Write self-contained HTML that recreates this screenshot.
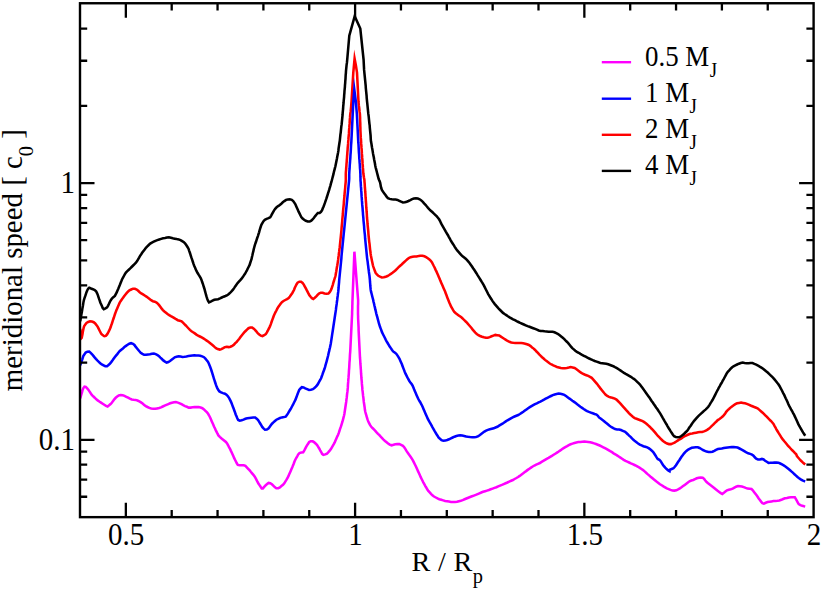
<!DOCTYPE html>
<html><head><meta charset="utf-8"><title>meridional speed</title>
<style>
html,body{margin:0;padding:0;background:#fff;}
body{width:822px;height:589px;overflow:hidden;}
svg{display:block;font-family:"Liberation Serif",serif;fill:#000;}
</style></head><body>
<svg width="822" height="589" viewBox="0 0 822 589">
<rect width="822" height="589" fill="#fff"/>
<path d="M80.2 398.4 L81.5 393.8 L82.1 391.8 L82.6 389.9 L83.4 388.1 L84.5 386.6 L85.8 386.9 L87.2 388.4 L88.5 389.9 L89.6 391.6 L90.7 393.3 L91.8 394.9 L93.2 396.3 L94.7 397.7 L96.1 399.1 L97.7 400.4 L99.3 401.5 L101.0 402.6 L102.7 403.7 L104.3 404.8 L106.0 405.9 L107.6 406.5 L109.1 405.3 L110.6 404.0 L112.0 402.5 L113.1 400.9 L114.3 399.3 L115.7 397.8 L117.2 396.6 L118.8 395.4 L120.7 395.1 L122.7 395.2 L124.5 395.9 L126.3 396.8 L128.1 397.7 L129.9 398.7 L131.7 399.5 L133.6 399.8 L135.6 399.9 L137.5 400.5 L139.3 401.4 L141.0 402.4 L142.6 403.6 L144.2 404.9 L145.8 406.1 L147.5 407.0 L149.3 407.9 L151.2 408.5 L153.2 408.7 L155.2 408.8 L157.1 408.4 L159.1 408.0 L161.0 407.4 L162.8 406.5 L164.6 405.7 L166.4 404.9 L168.3 404.1 L170.1 403.3 L172.0 402.7 L174.0 402.3 L175.9 402.1 L177.9 402.6 L179.7 403.3 L181.5 404.2 L183.2 405.2 L185.0 406.1 L186.9 406.8 L188.7 407.6 L190.7 407.6 L192.7 407.3 L194.6 407.1 L196.6 407.1 L198.6 407.1 L200.6 407.6 L202.4 408.2 L204.0 409.4 L205.4 410.8 L206.8 412.2 L208.1 413.8 L209.1 415.5 L210.0 417.3 L210.8 419.1 L211.6 421.0 L212.4 422.8 L213.2 424.6 L214.0 426.5 L214.9 428.3 L215.7 430.1 L216.6 431.9 L217.5 433.7 L218.4 435.4 L219.8 436.9 L221.3 438.2 L222.8 439.4 L224.4 440.7 L225.9 442.0 L227.1 443.5 L228.1 445.3 L229.0 447.1 L230.0 448.8 L230.8 450.6 L231.7 452.5 L232.5 454.3 L233.3 456.1 L234.1 457.9 L235.0 459.7 L235.9 461.5 L236.8 463.3 L237.8 464.9 L239.7 465.2 L241.7 465.2 L243.7 465.2 L245.4 465.9 L246.8 467.3 L248.2 468.8 L249.5 470.2 L250.8 471.8 L252.1 473.3 L253.4 474.8 L254.6 476.4 L255.6 478.2 L256.5 479.9 L257.4 481.7 L258.4 483.5 L259.5 485.1 L260.6 486.8 L261.7 488.4 L262.9 488.4 L264.2 486.9 L265.5 485.4 L267.1 484.1 L268.6 482.9 L270.2 483.2 L271.9 484.3 L273.3 485.7 L274.7 487.1 L276.3 488.2 L278.2 488.2 L279.9 487.4 L281.4 486.1 L283.0 484.8 L284.3 483.3 L285.3 481.6 L286.4 479.9 L287.4 478.2 L288.3 476.4 L289.1 474.6 L289.9 472.7 L290.7 470.9 L291.5 469.1 L292.3 467.2 L293.0 465.4 L293.8 463.5 L294.5 461.6 L295.3 459.8 L296.2 458.0 L297.2 456.3 L298.2 454.5 L299.5 453.1 L301.3 452.5 L303.2 452.3 L304.2 450.7 L305.1 448.9 L306.0 447.1 L307.0 445.4 L308.1 443.7 L309.2 442.0 L310.7 441.2 L312.7 441.3 L314.3 442.3 L315.8 443.7 L317.1 445.1 L318.2 446.8 L319.2 448.5 L320.2 450.3 L321.2 452.0 L322.1 453.8 L323.4 454.8 L325.3 454.4 L327.0 453.6 L328.4 452.2 L329.7 450.7 L330.9 449.1 L331.9 447.3 L332.9 445.6 L333.9 443.9 L334.8 442.1 L335.6 440.3 L336.4 438.4 L337.2 436.6 L338.1 434.8 L338.8 432.9 L339.4 431.0 L340.0 429.1 L340.7 427.2 L341.3 425.3 L341.9 423.4 L342.5 421.5 L343.0 419.6 L343.5 417.6 L344.0 415.7 L344.4 413.7 L344.7 411.7 L345.0 409.8 L345.3 407.8 L345.6 405.8 L345.9 403.8 L346.2 401.9 L346.4 399.9 L346.7 397.9 L346.9 395.9 L347.1 393.9 L347.4 391.9 L347.6 389.9 L347.8 387.9 L347.9 385.9 L348.0 383.9 L348.2 381.9 L348.3 379.9 L348.5 377.9 L348.6 376.0 L348.8 374.0 L348.9 372.0 L349.0 370.0 L349.2 368.0 L349.3 366.0 L349.4 364.0 L349.5 362.0 L349.7 360.0 L349.8 358.0 L349.9 356.0 L350.0 354.0 L350.2 352.0 L350.3 350.0 L350.4 348.0 L350.5 346.0 L350.6 344.0 L350.7 342.0 L350.8 340.0 L350.9 338.0 L351.0 336.0 L351.1 334.0 L351.2 332.0 L351.3 330.0 L351.4 328.0 L351.5 326.0 L351.6 324.0 L351.7 322.0 L351.8 320.0 L351.9 318.0 L352.0 316.0 L352.1 314.0 L352.1 312.0 L352.2 310.0 L352.3 308.0 L352.3 306.0 L352.4 304.0 L352.4 302.0 L352.5 300.0 L354.4 251.7 L358.1 300.0 L358.1 302.0 L358.1 304.0 L358.0 306.0 L358.0 308.0 L358.0 310.0 L358.0 312.0 L358.0 314.0 L358.1 316.0 L358.1 318.0 L358.2 320.0 L358.3 322.0 L358.4 324.0 L358.5 326.0 L358.6 328.0 L358.6 330.0 L358.7 332.0 L358.8 334.0 L358.9 336.0 L359.0 338.0 L359.1 340.0 L359.2 342.0 L359.3 344.0 L359.4 346.0 L359.5 348.0 L359.6 350.0 L359.7 352.0 L359.8 354.0 L359.9 356.0 L360.0 358.0 L360.2 360.0 L360.3 362.0 L360.4 364.0 L360.6 366.0 L360.7 368.0 L360.9 370.0 L361.0 372.0 L361.1 374.0 L361.3 376.0 L361.4 378.0 L361.6 380.0 L361.8 381.9 L361.9 383.9 L362.1 385.9 L362.3 387.9 L362.4 389.9 L362.7 391.9 L362.9 393.9 L363.1 395.9 L363.4 397.9 L363.6 399.9 L363.8 401.9 L364.1 403.8 L364.4 405.8 L364.7 407.8 L364.9 409.8 L365.3 411.8 L365.8 413.7 L366.4 415.6 L366.9 417.5 L367.5 419.4 L368.2 421.3 L369.1 423.1 L370.0 424.9 L371.1 426.5 L372.5 428.0 L373.9 429.4 L375.3 430.8 L376.6 432.3 L378.0 433.8 L379.4 435.2 L380.7 436.7 L382.1 438.1 L383.5 439.6 L385.0 440.9 L386.6 442.2 L388.1 443.4 L389.7 444.6 L391.6 445.3 L393.5 444.8 L395.3 444.2 L397.3 444.1 L399.3 444.1 L401.1 444.9 L402.9 445.8 L404.2 447.2 L405.3 448.9 L406.3 450.6 L407.4 452.3 L408.6 454.0 L409.7 455.6 L410.9 457.2 L412.0 458.9 L413.0 460.6 L413.9 462.4 L414.8 464.2 L415.7 466.0 L416.5 467.8 L417.3 469.6 L418.1 471.4 L419.0 473.3 L419.8 475.1 L420.6 476.9 L421.5 478.7 L422.4 480.5 L423.3 482.3 L424.3 484.1 L425.2 485.8 L426.2 487.5 L427.2 489.3 L428.3 490.9 L429.7 492.4 L431.0 493.9 L432.4 495.3 L434.0 496.5 L435.8 497.5 L437.5 498.4 L439.3 499.2 L441.3 499.8 L443.2 500.4 L445.1 501.0 L447.1 501.3 L449.0 501.6 L451.0 501.9 L453.0 501.9 L455.0 501.9 L457.0 501.8 L458.9 501.2 L460.8 500.7 L462.7 500.1 L464.6 499.3 L466.4 498.5 L468.3 497.7 L470.1 497.0 L472.0 496.3 L473.9 495.6 L475.7 494.9 L477.6 494.1 L479.4 493.3 L481.3 492.5 L483.1 491.8 L485.1 491.2 L487.0 490.6 L488.9 490.0 L490.7 489.3 L492.6 488.6 L494.5 487.9 L496.4 487.2 L498.2 486.4 L500.1 485.6 L501.9 484.9 L503.7 484.1 L505.6 483.3 L507.4 482.5 L509.2 481.6 L511.1 480.8 L512.9 480.0 L514.6 479.0 L516.4 478.0 L518.1 477.0 L519.7 475.9 L521.3 474.7 L522.9 473.5 L524.5 472.2 L526.1 471.1 L527.7 469.9 L529.4 468.7 L531.0 467.6 L532.7 466.5 L534.4 465.5 L536.2 464.6 L538.0 463.8 L539.9 463.0 L541.6 461.9 L543.3 460.9 L545.0 459.9 L546.7 458.9 L548.5 457.9 L550.2 456.9 L551.9 455.9 L553.6 454.8 L555.3 453.7 L557.0 452.6 L558.7 451.5 L560.3 450.4 L561.9 449.2 L563.6 448.1 L565.3 447.1 L567.1 446.1 L568.8 445.1 L570.6 444.3 L572.5 443.6 L574.4 443.0 L576.3 442.5 L578.3 442.1 L580.3 441.9 L582.3 441.7 L584.3 441.6 L586.3 441.8 L588.2 442.0 L590.2 442.3 L592.2 442.8 L594.1 443.4 L596.0 444.0 L597.8 444.7 L599.7 445.5 L601.5 446.4 L603.3 447.3 L605.0 448.2 L606.8 449.2 L608.5 450.2 L610.2 451.2 L612.0 452.2 L613.6 453.3 L615.3 454.3 L617.0 455.4 L618.7 456.5 L620.4 457.6 L622.1 458.7 L623.7 459.8 L625.5 460.8 L627.3 461.7 L629.1 462.5 L630.9 463.4 L632.7 464.2 L634.5 465.0 L636.4 465.8 L638.1 466.8 L639.8 467.9 L641.5 469.0 L643.1 470.1 L644.6 471.4 L646.1 472.7 L647.6 474.1 L649.1 475.4 L650.6 476.7 L652.2 478.0 L653.7 479.3 L655.2 480.5 L656.8 481.8 L658.4 483.0 L660.0 484.2 L661.7 485.3 L663.4 486.4 L665.1 487.4 L666.8 488.4 L668.7 489.1 L670.5 489.9 L672.4 490.4 L674.4 490.6 L676.3 490.3 L678.1 489.4 L679.9 488.4 L681.5 487.3 L683.1 486.1 L684.7 484.9 L686.3 483.7 L687.9 482.5 L689.5 481.3 L691.3 480.5 L693.2 480.0 L695.0 479.1 L696.8 478.3 L698.7 477.7 L700.7 477.6 L702.7 477.7 L704.1 478.9 L705.3 480.5 L706.6 482.1 L708.1 483.3 L709.7 484.5 L711.3 485.7 L712.9 486.9 L714.5 488.2 L716.0 489.4 L717.6 490.7 L719.2 491.9 L720.8 493.1 L722.3 493.9 L723.9 492.8 L725.4 491.6 L727.0 490.3 L728.8 489.7 L730.8 489.3 L732.7 488.7 L734.4 487.7 L736.1 486.7 L738.0 486.1 L740.0 486.2 L741.9 486.5 L743.8 487.1 L745.7 487.9 L747.5 488.6 L749.5 488.8 L751.5 489.0 L752.8 490.3 L754.0 491.9 L755.2 493.5 L756.4 495.1 L757.6 496.7 L758.7 498.4 L759.9 500.0 L761.1 501.6 L762.4 503.2 L763.9 503.6 L765.7 502.8 L767.6 502.1 L769.5 501.7 L771.5 501.4 L773.5 501.1 L775.5 500.9 L777.5 500.8 L779.4 500.5 L781.3 499.8 L783.1 499.0 L785.0 498.3 L786.9 497.9 L788.9 497.4 L790.9 497.2 L792.9 497.2 L794.8 497.3 L795.8 498.9 L796.8 500.7 L797.7 502.5 L798.7 504.1 L800.4 505.1 L802.3 505.8 L804.2 506.3 L805.2 506.5" stroke="#ff00ff" stroke-width="2.55" fill="none" stroke-linejoin="miter" stroke-miterlimit="14" stroke-linecap="butt"/>
<path d="M80.2 328.8 L80.9 334.3 L81.2 336.3 L81.4 338.2 L81.7 337.9 L82.1 335.9 L82.5 334.0 L82.8 332.0 L83.2 330.0 L83.6 328.1 L84.1 326.2 L85.3 324.6 L86.5 323.0 L88.2 322.0 L90.0 321.3 L91.9 321.5 L93.7 322.2 L95.2 323.4 L96.4 325.0 L97.6 326.6 L98.5 328.4 L99.4 330.2 L100.3 332.0 L101.2 333.8 L102.6 335.1 L104.3 336.2 L105.8 335.9 L107.1 334.4 L108.1 332.7 L109.0 330.9 L109.9 329.1 L110.6 327.3 L111.2 325.4 L111.9 323.5 L112.5 321.6 L113.1 319.7 L113.8 317.8 L114.4 315.9 L115.0 314.0 L115.7 312.1 L116.4 310.2 L117.2 308.4 L118.0 306.6 L118.8 304.7 L119.6 302.9 L120.6 301.2 L121.8 299.5 L122.9 297.9 L124.1 296.3 L125.3 294.7 L126.6 293.2 L127.9 291.7 L129.4 290.4 L131.2 289.5 L133.0 288.7 L134.9 288.8 L136.7 289.5 L138.2 290.8 L139.7 292.2 L141.3 293.4 L143.0 294.4 L144.7 295.5 L146.4 296.6 L148.0 297.8 L149.6 299.0 L151.1 300.2 L152.9 301.2 L154.8 301.7 L156.5 302.5 L158.0 303.9 L159.3 305.4 L160.5 307.0 L161.7 308.6 L162.9 310.1 L164.4 311.5 L166.0 312.8 L167.5 314.0 L169.2 315.1 L170.9 316.1 L172.7 317.1 L174.4 318.1 L176.1 319.2 L177.8 320.2 L179.7 320.7 L181.6 321.3 L183.0 322.7 L184.4 324.1 L185.8 325.5 L187.2 327.0 L188.6 328.5 L189.9 329.9 L191.5 331.2 L193.1 332.3 L194.8 333.4 L196.4 334.6 L198.1 335.6 L199.9 336.5 L201.7 337.4 L203.4 338.4 L205.1 339.5 L206.7 340.6 L208.4 341.8 L209.9 343.0 L211.5 344.3 L213.0 345.5 L214.5 346.9 L216.0 348.2 L217.7 349.1 L219.7 349.6 L221.4 349.1 L223.2 348.1 L224.9 347.1 L226.8 346.7 L228.7 347.1 L230.5 346.7 L232.3 345.8 L233.9 344.7 L235.3 343.2 L236.7 341.8 L238.0 340.3 L239.3 338.7 L240.5 337.1 L241.7 335.5 L242.9 334.0 L244.2 332.4 L245.6 331.0 L247.0 329.6 L248.5 328.2 L250.3 327.5 L252.1 327.6 L253.8 328.7 L255.2 330.1 L256.5 331.6 L257.7 333.2 L259.2 334.5 L260.8 335.6 L262.5 336.2 L264.2 335.2 L265.8 334.1 L266.9 332.4 L267.8 330.7 L268.7 328.9 L269.6 327.1 L270.4 325.2 L271.1 323.4 L271.7 321.5 L272.4 319.6 L273.1 317.7 L273.8 315.8 L274.6 314.0 L275.5 312.2 L276.4 310.5 L277.3 308.7 L278.3 306.9 L279.5 305.3 L280.6 303.7 L281.9 302.1 L283.5 301.0 L285.3 300.0 L287.0 299.1 L288.7 298.0 L289.9 296.5 L291.1 294.8 L292.2 293.2 L293.2 291.5 L294.1 289.7 L294.8 287.8 L295.7 286.0 L296.6 284.2 L297.6 282.6 L299.3 281.7 L301.0 281.8 L302.6 283.0 L303.8 284.6 L304.7 286.3 L305.7 288.1 L306.6 289.9 L307.5 291.6 L308.4 293.4 L309.4 295.2 L310.6 296.8 L311.9 298.2 L313.3 299.0 L314.8 297.8 L316.3 296.4 L317.6 294.9 L319.0 293.5 L320.8 292.7 L322.7 292.7 L324.5 293.4 L326.5 293.8 L328.4 293.5 L329.7 292.1 L330.8 290.4 L331.6 288.6 L332.2 286.7 L332.8 284.8 L333.3 282.9 L333.9 281.0 L334.5 279.0 L335.1 277.1 L335.6 275.2 L335.9 273.2 L336.3 271.3 L336.6 269.3 L336.9 267.3 L337.3 265.3 L337.6 263.4 L337.9 261.4 L338.2 259.4 L338.4 257.4 L338.7 255.4 L338.9 253.5 L339.2 251.5 L339.4 249.5 L339.7 247.5 L339.9 245.5 L340.1 243.5 L340.3 241.5 L340.5 239.5 L340.7 237.6 L340.9 235.6 L341.1 233.6 L341.3 231.6 L341.5 229.6 L341.6 227.6 L341.8 225.6 L342.0 223.6 L342.2 221.6 L342.3 219.6 L342.5 217.6 L342.7 215.6 L342.9 213.7 L343.0 211.7 L343.2 209.7 L343.4 207.7 L343.6 205.7 L343.8 203.7 L343.9 201.7 L344.1 199.7 L344.3 197.7 L344.5 195.7 L344.6 193.7 L344.8 191.7 L345.0 189.7 L345.2 187.8 L345.3 185.8 L345.5 183.8 L345.7 181.8 L345.8 179.8 L345.8 177.8 L345.8 175.8 L345.8 173.8 L345.9 171.8 L346.1 169.8 L346.2 167.8 L346.4 165.8 L346.5 163.8 L346.7 161.8 L346.8 159.8 L347.0 157.8 L347.1 155.8 L347.3 153.8 L347.4 151.8 L347.6 149.8 L347.7 147.8 L347.9 145.9 L348.1 143.9 L348.2 141.9 L348.4 139.9 L348.5 137.9 L348.7 135.9 L348.9 133.9 L349.0 131.9 L349.1 129.9 L349.3 127.9 L349.4 125.9 L349.6 123.9 L349.7 121.9 L349.8 119.9 L350.0 117.9 L350.1 115.9 L350.3 113.9 L350.6 112.0 L350.8 110.0 L351.0 108.0 L351.2 106.0 L351.3 104.0 L351.5 102.0 L353.3 72.6 L354.6 58.6 L355.9 65.4 L357.0 72.6 L358.5 102.0 L358.7 104.0 L358.9 106.0 L359.2 108.0 L359.4 110.0 L359.6 111.9 L359.9 113.9 L360.0 115.9 L360.1 117.9 L360.1 119.9 L360.2 121.9 L360.3 123.9 L360.3 125.9 L360.4 127.9 L360.4 129.9 L360.5 131.9 L360.6 133.9 L360.7 135.9 L360.8 137.9 L361.0 139.9 L361.1 141.9 L361.2 143.9 L361.4 145.9 L361.5 147.9 L361.7 149.9 L361.8 151.9 L361.9 153.9 L362.1 155.9 L362.2 157.9 L362.4 159.9 L362.5 161.9 L362.6 163.9 L362.8 165.9 L362.9 167.9 L363.1 169.9 L363.2 171.8 L363.4 173.8 L363.7 175.8 L364.0 177.8 L364.4 179.8 L364.5 181.8 L364.7 183.8 L364.8 185.7 L364.9 187.7 L365.1 189.7 L365.2 191.7 L365.4 193.7 L365.5 195.7 L365.6 197.7 L365.8 199.7 L365.9 201.7 L366.1 203.7 L366.2 205.7 L366.3 207.7 L366.5 209.7 L366.6 211.7 L366.8 213.7 L366.9 215.7 L367.0 217.7 L367.2 219.7 L367.4 221.7 L367.5 223.7 L367.7 225.7 L367.9 227.7 L368.1 229.6 L368.3 231.6 L368.4 233.6 L368.6 235.6 L368.8 237.6 L369.0 239.6 L369.2 241.6 L369.5 243.6 L369.7 245.6 L369.9 247.6 L370.1 249.6 L370.4 251.5 L370.6 253.5 L370.9 255.5 L371.3 257.5 L371.7 259.4 L372.1 261.4 L372.5 263.3 L372.9 265.3 L373.5 267.2 L374.2 269.1 L374.9 271.0 L375.6 272.8 L376.9 274.3 L378.3 275.8 L380.0 276.7 L381.8 277.4 L383.8 277.3 L385.7 276.8 L387.5 276.0 L389.2 275.0 L390.9 273.9 L392.5 272.8 L394.1 271.5 L395.6 270.2 L397.0 268.8 L398.4 267.4 L399.9 266.0 L401.4 264.7 L402.9 263.3 L404.3 262.0 L405.8 260.6 L407.3 259.3 L408.8 258.0 L410.6 257.2 L412.5 256.7 L414.5 256.5 L416.5 256.4 L418.5 256.1 L420.4 255.7 L422.4 255.8 L424.4 256.3 L426.1 257.1 L427.8 258.2 L429.4 259.4 L430.8 260.8 L432.0 262.4 L432.9 264.2 L433.8 266.0 L434.7 267.7 L435.5 269.6 L436.4 271.4 L437.2 273.2 L438.0 275.1 L438.8 276.9 L439.6 278.7 L440.3 280.6 L441.1 282.4 L441.9 284.3 L442.7 286.1 L443.5 287.9 L444.3 289.8 L445.1 291.6 L445.8 293.5 L446.5 295.3 L447.2 297.2 L447.9 299.1 L448.7 301.0 L449.4 302.8 L450.2 304.6 L451.0 306.5 L452.0 308.2 L453.0 309.9 L454.1 311.6 L455.5 313.0 L457.1 314.2 L458.7 315.4 L460.3 316.6 L461.9 317.8 L463.3 319.2 L464.8 320.6 L466.2 322.0 L467.5 323.4 L468.9 325.0 L470.2 326.5 L471.5 328.0 L472.7 329.6 L474.0 331.1 L475.3 332.6 L476.8 333.9 L478.4 335.2 L480.1 336.0 L482.0 336.8 L483.9 337.3 L485.9 337.7 L487.8 337.8 L489.7 337.1 L491.6 336.3 L493.4 335.6 L495.3 334.9 L497.2 335.2 L499.2 335.5 L500.9 336.6 L502.6 337.7 L504.2 338.8 L505.9 339.9 L507.6 341.0 L509.4 341.8 L511.3 342.4 L513.2 342.8 L515.2 342.9 L517.2 342.9 L519.2 342.9 L521.2 343.1 L523.2 343.3 L525.2 343.7 L527.0 344.3 L528.9 345.0 L530.6 346.1 L532.1 347.4 L533.7 348.6 L535.1 350.0 L536.5 351.5 L537.9 352.9 L539.2 354.4 L540.7 355.8 L542.1 357.2 L543.6 358.5 L545.0 359.9 L546.6 361.1 L548.2 362.3 L549.8 363.5 L551.5 364.5 L553.3 365.4 L555.1 366.2 L557.0 367.0 L558.9 367.5 L560.9 368.0 L562.8 368.3 L564.8 368.2 L566.8 368.0 L568.8 367.6 L570.7 367.1 L572.6 367.4 L574.6 367.9 L576.2 369.0 L577.8 370.2 L579.4 371.4 L581.0 372.6 L582.7 373.7 L584.5 374.5 L586.4 375.2 L588.2 375.9 L590.0 376.8 L591.7 377.8 L593.1 379.3 L594.4 380.8 L595.7 382.3 L597.0 383.8 L598.2 385.4 L599.4 387.0 L600.6 388.6 L601.9 390.2 L603.1 391.7 L604.4 393.3 L605.7 394.8 L607.3 396.0 L609.0 396.9 L611.0 397.4 L612.9 398.0 L614.8 398.6 L616.5 399.6 L617.9 401.0 L619.3 402.4 L620.7 403.9 L622.0 405.4 L623.3 406.8 L624.7 408.3 L626.0 409.8 L627.4 411.3 L628.7 412.8 L630.1 414.3 L631.5 415.6 L633.1 416.9 L634.7 418.1 L636.5 418.8 L638.4 419.5 L640.3 420.2 L642.1 420.9 L643.9 421.9 L645.5 423.1 L647.0 424.3 L648.5 425.6 L650.0 427.0 L651.4 428.5 L652.8 429.9 L654.1 431.4 L655.4 432.9 L656.7 434.5 L657.9 436.0 L659.4 437.4 L660.8 438.8 L662.2 440.2 L663.7 441.5 L665.4 442.6 L667.1 443.6 L669.0 444.1 L670.9 444.1 L672.8 443.4 L674.6 442.6 L676.3 441.5 L678.0 440.4 L679.7 439.3 L681.4 438.3 L683.0 437.2 L684.8 436.2 L686.6 435.3 L688.4 434.5 L690.3 433.8 L692.2 433.5 L694.2 433.1 L696.2 432.7 L698.1 432.3 L700.1 432.1 L702.1 431.9 L704.0 431.4 L705.8 430.6 L707.5 429.6 L709.1 428.4 L710.6 427.1 L712.1 425.7 L713.5 424.3 L714.9 422.9 L716.4 421.5 L717.8 420.1 L719.5 419.0 L721.1 417.8 L722.6 416.6 L723.9 415.1 L725.2 413.5 L726.2 411.8 L727.5 410.3 L729.0 409.0 L730.5 407.6 L732.0 406.4 L733.7 405.2 L735.3 404.1 L737.1 403.3 L739.1 402.9 L741.1 402.6 L743.0 402.9 L745.0 403.3 L746.9 403.9 L748.7 404.7 L750.6 405.5 L752.4 406.2 L754.3 407.0 L756.1 407.7 L757.9 408.6 L759.4 409.9 L760.9 411.2 L762.4 412.5 L763.9 413.9 L765.3 415.3 L766.7 416.7 L768.1 418.2 L769.5 419.6 L770.9 421.0 L772.3 422.5 L773.5 424.0 L774.5 425.8 L775.5 427.5 L776.4 429.3 L777.4 431.0 L778.4 432.7 L779.5 434.4 L780.6 436.1 L781.6 437.8 L782.8 439.4 L784.1 441.0 L785.4 442.5 L786.6 444.0 L787.9 445.6 L789.3 447.0 L790.6 448.5 L792.0 450.0 L793.4 451.4 L794.8 452.9 L796.2 454.3 L796.9 456.0 L798.1 457.5 L799.4 459.0 L800.8 460.5 L802.2 461.9 L803.7 463.2 L805.2 464.5" stroke="#ff0000" stroke-width="2.55" fill="none" stroke-linejoin="miter" stroke-miterlimit="14" stroke-linecap="butt"/>
<path d="M80.2 365.3 L81.5 361.5 L82.2 359.6 L82.8 357.7 L83.4 355.9 L84.5 354.2 L85.7 352.6 L87.4 351.7 L89.2 351.6 L90.7 352.9 L92.1 354.3 L93.4 355.9 L94.6 357.4 L95.9 358.9 L97.3 360.4 L98.8 361.8 L100.2 363.2 L101.8 364.3 L103.6 365.3 L105.3 366.2 L107.0 366.2 L108.5 365.0 L110.0 363.6 L111.2 362.1 L112.4 360.5 L113.6 358.8 L114.7 357.2 L116.0 355.6 L117.3 354.1 L118.5 352.5 L119.8 351.0 L121.3 349.7 L122.9 348.4 L124.4 347.1 L126.0 345.9 L127.6 344.8 L129.3 343.7 L131.1 343.2 L133.0 343.8 L134.4 345.0 L135.6 346.6 L136.9 348.2 L138.1 349.7 L139.4 351.3 L140.7 352.8 L142.4 353.9 L144.1 354.8 L146.0 354.8 L148.0 354.5 L149.9 354.2 L151.9 353.8 L153.9 353.5 L155.7 354.1 L157.5 355.0 L159.0 356.2 L160.4 357.6 L161.9 359.0 L163.3 360.4 L165.0 361.6 L166.6 362.6 L168.3 362.0 L170.0 361.0 L171.6 359.8 L173.2 358.6 L174.7 357.3 L176.6 356.8 L178.6 356.3 L180.5 356.6 L182.5 356.9 L184.5 356.8 L186.4 356.5 L188.4 356.1 L190.4 355.8 L192.4 355.5 L194.4 355.3 L196.4 355.4 L198.4 355.6 L200.3 355.8 L202.2 356.4 L204.0 357.2 L205.4 358.6 L206.7 360.2 L207.9 361.7 L208.8 363.5 L209.6 365.4 L210.3 367.2 L211.0 369.1 L211.6 371.0 L212.2 372.9 L212.8 374.8 L213.4 376.8 L213.9 378.7 L214.6 380.6 L215.2 382.5 L215.8 384.4 L216.5 386.3 L217.3 388.1 L218.2 389.9 L219.4 391.4 L221.1 392.4 L223.0 393.1 L224.9 393.7 L226.5 394.8 L227.9 396.2 L229.0 397.8 L229.9 399.6 L230.8 401.4 L231.6 403.2 L232.3 405.1 L233.0 407.0 L233.7 408.8 L234.4 410.7 L235.1 412.6 L235.7 414.5 L236.5 416.3 L237.3 418.2 L238.2 420.0 L239.7 420.7 L241.6 420.3 L243.5 419.6 L245.4 418.8 L247.3 418.3 L249.3 418.0 L251.3 417.8 L253.2 417.6 L255.2 417.5 L256.7 418.7 L258.1 420.1 L259.2 421.8 L260.2 423.5 L261.2 425.2 L262.2 426.9 L263.5 428.4 L265.0 429.7 L266.8 429.5 L268.4 428.5 L269.6 426.9 L270.8 425.3 L272.0 423.7 L273.4 422.4 L274.9 421.0 L276.4 419.7 L278.2 418.8 L280.0 418.0 L281.9 417.4 L283.9 417.1 L285.7 416.7 L286.9 415.1 L288.0 413.4 L289.0 411.7 L290.0 410.0 L291.0 408.3 L292.0 406.5 L293.0 404.7 L293.8 403.0 L294.7 401.2 L295.6 399.4 L296.3 397.5 L297.0 395.6 L297.7 393.7 L298.4 391.9 L299.2 390.0 L300.5 388.5 L301.9 387.2 L303.6 387.4 L305.3 388.3 L307.1 389.1 L309.0 389.9 L310.9 389.7 L312.9 389.2 L314.4 388.0 L315.9 386.7 L317.2 385.2 L318.2 383.5 L319.2 381.7 L320.2 380.0 L321.1 378.2 L321.8 376.3 L322.5 374.4 L323.1 372.5 L323.8 370.7 L324.5 368.8 L325.1 366.9 L325.6 364.9 L326.2 363.0 L326.7 361.1 L327.2 359.1 L327.7 357.2 L328.2 355.3 L328.6 353.3 L329.1 351.4 L329.5 349.4 L330.0 347.5 L330.4 345.5 L330.8 343.5 L331.1 341.6 L331.4 339.6 L331.7 337.6 L332.0 335.6 L332.3 333.6 L332.6 331.7 L332.9 329.7 L333.2 327.7 L333.5 325.7 L333.8 323.8 L334.1 321.8 L334.4 319.8 L334.7 317.8 L335.0 315.8 L335.3 313.8 L335.6 311.9 L335.9 309.9 L336.1 307.9 L336.4 305.9 L336.7 303.9 L336.9 302.0 L337.2 300.0 L337.4 298.0 L337.7 296.0 L337.9 294.0 L338.2 292.0 L338.4 290.0 L338.6 288.0 L338.7 286.0 L338.9 284.0 L339.1 282.0 L339.2 280.1 L339.4 278.1 L339.6 276.1 L339.8 274.1 L340.0 272.1 L340.2 270.1 L340.4 268.1 L340.6 266.1 L340.8 264.1 L341.0 262.1 L341.2 260.1 L341.4 258.1 L341.5 256.1 L341.7 254.2 L341.9 252.2 L342.1 250.2 L342.3 248.2 L342.5 246.2 L342.7 244.2 L342.9 242.2 L343.1 240.2 L343.3 238.2 L343.5 236.2 L343.7 234.2 L343.9 232.2 L344.1 230.3 L344.3 228.3 L344.5 226.3 L344.7 224.3 L344.9 222.3 L345.1 220.3 L345.3 218.3 L345.5 216.3 L345.7 214.3 L345.9 212.3 L346.1 210.3 L346.3 208.3 L346.5 206.3 L346.7 204.4 L346.9 202.4 L347.1 200.4 L347.3 198.4 L347.5 196.4 L347.7 194.4 L347.9 192.4 L348.1 190.4 L348.3 188.4 L348.5 186.4 L348.7 184.4 L348.9 182.4 L349.1 180.5 L349.2 178.5 L349.2 176.5 L349.2 174.5 L349.3 172.5 L349.4 170.5 L349.6 168.5 L349.7 166.5 L349.8 164.5 L350.0 162.5 L350.1 160.5 L350.3 158.5 L350.4 156.5 L350.5 154.5 L350.7 152.5 L350.8 150.5 L350.9 148.5 L351.0 146.5 L351.1 144.5 L351.3 142.5 L351.4 140.5 L351.5 138.5 L351.6 136.5 L351.7 134.5 L351.8 132.5 L351.9 130.5 L352.0 128.5 L352.1 126.5 L352.2 124.5 L352.3 122.5 L352.4 120.5 L352.5 118.5 L352.6 116.5 L352.7 114.5 L353.3 102.0 L354.3 89.6 L355.9 102.0 L356.9 114.5 L357.0 116.5 L357.1 118.5 L357.2 120.5 L357.3 122.5 L357.4 124.5 L357.5 126.5 L357.6 128.5 L357.7 130.5 L357.8 132.5 L357.9 134.5 L358.0 136.5 L358.1 138.5 L358.2 140.5 L358.3 142.5 L358.5 144.5 L358.6 146.5 L358.7 148.5 L358.8 150.5 L358.9 152.5 L359.1 154.5 L359.2 156.4 L359.3 158.4 L359.5 160.4 L359.6 162.4 L359.8 164.4 L359.9 166.4 L360.0 168.4 L360.2 170.4 L360.3 172.4 L360.4 174.4 L360.4 176.4 L360.5 178.4 L360.5 180.4 L360.7 182.4 L360.8 184.4 L360.9 186.4 L361.1 188.4 L361.2 190.4 L361.4 192.4 L361.5 194.4 L361.6 196.4 L361.8 198.4 L361.9 200.4 L362.1 202.4 L362.2 204.4 L362.4 206.3 L362.6 208.3 L362.7 210.3 L362.9 212.3 L363.0 214.3 L363.2 216.3 L363.4 218.3 L363.5 220.3 L363.7 222.3 L363.9 224.3 L364.1 226.3 L364.2 228.3 L364.4 230.3 L364.6 232.3 L364.8 234.2 L365.0 236.2 L365.1 238.2 L365.3 240.2 L365.5 242.2 L365.7 244.2 L365.9 246.2 L366.1 248.2 L366.3 250.2 L366.5 252.2 L366.7 254.2 L366.9 256.1 L367.1 258.1 L367.4 260.1 L367.7 262.1 L367.9 264.1 L368.2 266.1 L368.4 268.1 L368.7 270.0 L368.9 272.0 L369.2 274.0 L369.5 276.0 L369.7 278.0 L369.9 280.0 L370.0 282.0 L370.2 284.0 L370.3 286.0 L370.5 287.9 L370.7 289.9 L371.1 291.9 L371.6 293.8 L372.1 295.8 L372.6 297.7 L373.1 299.6 L373.5 301.6 L374.0 303.5 L374.4 305.5 L374.9 307.4 L375.3 309.4 L375.8 311.3 L376.2 313.3 L376.7 315.2 L377.3 317.2 L377.8 319.1 L378.3 321.0 L378.8 322.9 L379.4 324.9 L380.0 326.8 L380.7 328.6 L381.4 330.5 L382.1 332.4 L383.0 334.2 L383.9 336.0 L384.8 337.8 L385.7 339.6 L386.6 341.3 L387.6 343.0 L388.7 344.8 L389.7 346.5 L390.8 348.1 L391.9 349.8 L393.1 351.4 L394.7 352.6 L396.3 353.8 L397.4 355.4 L398.5 357.1 L399.5 358.8 L400.3 360.7 L401.1 362.5 L401.9 364.3 L402.6 366.2 L403.3 368.1 L404.0 369.9 L404.7 371.8 L405.5 373.7 L406.4 375.4 L407.3 377.2 L408.2 379.0 L409.2 380.7 L410.4 382.4 L411.6 384.0 L412.6 385.7 L413.4 387.5 L414.1 389.3 L414.9 391.2 L415.7 393.0 L416.5 394.9 L417.3 396.7 L418.1 398.5 L419.1 400.3 L420.1 402.0 L421.1 403.8 L422.0 405.5 L422.8 407.3 L423.6 409.2 L424.4 411.0 L425.2 412.9 L426.0 414.7 L426.8 416.5 L427.6 418.4 L428.5 420.1 L429.5 421.9 L430.5 423.6 L431.5 425.4 L432.4 427.1 L433.4 428.8 L434.4 430.6 L435.4 432.3 L436.4 434.0 L437.5 435.7 L438.5 437.4 L440.0 438.8 L441.5 440.1 L443.4 440.7 L445.3 440.6 L447.2 440.0 L449.0 439.3 L450.9 438.4 L452.7 437.5 L454.5 436.7 L456.4 436.0 L458.3 435.6 L460.3 435.4 L462.2 435.5 L464.2 435.9 L466.2 436.4 L468.1 436.8 L470.1 437.1 L472.1 437.2 L474.1 437.2 L476.0 436.9 L477.9 436.4 L479.6 435.2 L481.2 434.0 L482.8 432.8 L484.4 431.6 L486.1 430.6 L487.9 429.9 L489.8 429.3 L491.8 428.8 L493.7 428.3 L495.5 427.5 L497.4 426.8 L499.1 425.7 L500.8 424.7 L502.5 423.7 L504.2 422.5 L505.8 421.4 L507.5 420.3 L509.2 419.3 L510.9 418.3 L512.7 417.3 L514.5 416.5 L516.4 415.7 L518.2 415.0 L519.9 414.0 L521.6 412.9 L523.3 411.8 L524.9 410.6 L526.5 409.4 L528.1 408.2 L529.8 407.1 L531.5 406.1 L533.2 405.1 L535.0 404.1 L536.8 403.3 L538.6 402.4 L540.4 401.6 L542.2 400.7 L544.0 399.7 L545.7 398.7 L547.4 397.8 L549.2 396.9 L551.0 396.0 L552.8 395.1 L554.7 394.5 L556.6 394.0 L558.6 393.6 L560.5 393.7 L562.4 394.3 L564.3 394.9 L566.0 396.0 L567.6 397.2 L569.2 398.4 L570.8 399.5 L572.4 400.7 L574.1 401.9 L575.7 403.1 L577.2 404.3 L578.8 405.5 L580.4 406.8 L582.1 407.9 L583.7 409.0 L585.4 410.1 L587.1 411.1 L589.0 411.9 L590.8 412.6 L592.7 413.3 L594.6 414.0 L596.5 414.6 L597.9 415.8 L599.0 417.4 L600.6 418.6 L602.2 419.8 L603.8 421.0 L605.3 422.3 L606.9 423.6 L608.4 424.8 L609.9 426.1 L611.6 427.2 L613.3 428.2 L615.1 429.1 L617.1 429.4 L619.1 429.5 L621.0 430.0 L622.8 430.8 L624.7 431.6 L626.2 432.8 L627.7 434.2 L629.1 435.6 L630.6 436.9 L632.0 438.4 L633.4 439.8 L634.9 441.1 L636.5 442.3 L638.1 443.5 L639.8 444.6 L641.6 445.4 L643.4 446.2 L645.3 446.8 L647.2 447.4 L649.0 448.4 L650.5 449.6 L652.1 450.9 L653.4 452.3 L654.5 454.0 L655.6 455.7 L656.6 457.4 L657.7 459.0 L659.4 459.9 L660.7 461.2 L661.7 462.9 L662.7 464.6 L663.9 466.2 L665.2 467.7 L666.6 469.1 L668.2 470.4 L669.6 471.2 L669.9 469.7 L671.7 469.0 L673.5 468.3 L674.8 466.8 L676.0 465.2 L677.1 463.5 L678.2 461.8 L679.3 460.2 L680.4 458.5 L681.5 456.8 L682.7 455.2 L683.9 453.6 L685.2 452.1 L686.7 450.8 L688.2 449.5 L690.0 448.6 L691.8 447.8 L693.8 447.4 L695.8 447.3 L697.8 447.3 L699.5 448.0 L701.3 449.0 L703.0 450.0 L704.8 450.8 L706.6 451.6 L708.6 452.0 L710.6 452.0 L712.5 451.7 L714.3 450.8 L716.0 449.8 L717.9 449.1 L719.8 448.8 L721.8 448.5 L723.8 448.1 L725.7 447.7 L727.7 447.4 L729.7 447.2 L731.7 447.1 L733.7 447.1 L735.7 447.3 L737.6 447.6 L739.5 448.5 L741.2 449.4 L743.0 450.4 L744.7 451.4 L746.4 452.5 L748.2 453.3 L750.1 453.9 L752.0 454.6 L753.5 455.7 L754.8 457.3 L756.2 458.6 L758.0 459.4 L759.9 459.4 L761.9 458.9 L763.6 459.5 L765.1 460.7 L766.8 461.8 L768.5 462.9 L770.4 462.8 L772.4 462.7 L774.4 462.6 L776.4 462.6 L778.4 462.7 L780.2 463.5 L782.0 464.4 L783.7 465.4 L785.4 466.5 L787.0 467.7 L788.6 469.0 L790.1 470.3 L791.6 471.6 L793.1 472.9 L794.5 474.3 L796.0 475.6 L797.5 477.0 L799.1 478.2 L800.7 479.3 L802.5 480.3 L804.3 481.1 L805.2 481.5" stroke="#0000ff" stroke-width="2.55" fill="none" stroke-linejoin="miter" stroke-miterlimit="14" stroke-linecap="butt"/>
<path d="M80.2 321.2 L81.5 313.8 L81.9 311.8 L82.2 309.8 L82.5 307.9 L82.9 305.9 L83.2 303.9 L83.5 301.9 L83.9 300.0 L84.5 298.1 L85.2 296.2 L85.8 294.3 L86.4 292.4 L87.2 290.5 L88.1 288.7 L89.2 287.7 L91.0 288.5 L92.9 289.2 L94.7 290.0 L96.1 291.3 L97.0 293.1 L97.8 294.9 L98.4 296.8 L99.0 298.7 L99.7 300.6 L100.3 302.5 L101.1 304.3 L101.9 306.1 L102.7 308.0 L103.8 309.1 L105.5 308.3 L107.1 307.3 L108.1 305.6 L109.0 303.8 L109.8 302.0 L110.8 300.2 L111.9 298.6 L113.3 297.2 L114.9 295.9 L115.8 294.2 L116.7 292.4 L117.5 290.6 L118.3 288.8 L119.0 286.9 L119.8 285.0 L120.5 283.2 L121.3 281.3 L122.0 279.5 L123.0 277.7 L123.9 276.0 L124.9 274.2 L125.9 272.5 L127.3 271.1 L128.8 269.7 L130.2 268.4 L131.6 267.0 L133.1 265.5 L134.5 264.1 L135.9 262.7 L137.1 261.1 L138.1 259.4 L139.1 257.7 L140.1 255.9 L141.2 254.3 L142.3 252.6 L143.5 251.0 L144.7 249.4 L145.9 247.8 L147.3 246.4 L148.7 245.0 L150.2 243.6 L151.9 242.6 L153.7 241.7 L155.5 240.8 L157.3 240.1 L159.2 239.5 L161.1 238.9 L163.1 238.3 L165.0 238.0 L167.0 237.6 L168.9 237.3 L170.9 237.8 L172.8 238.3 L174.7 238.7 L176.7 239.1 L178.7 239.4 L180.5 240.1 L182.2 241.1 L183.9 242.2 L185.2 243.6 L186.4 245.3 L187.5 247.0 L188.5 248.7 L189.1 250.6 L189.8 252.5 L190.4 254.4 L191.0 256.3 L191.6 258.2 L192.3 260.1 L192.9 262.0 L193.5 263.9 L194.2 265.7 L195.0 267.6 L195.8 269.4 L196.6 271.2 L197.6 273.0 L198.6 274.7 L199.7 276.4 L200.7 278.1 L201.5 279.9 L202.1 281.8 L202.8 283.7 L203.4 285.6 L204.0 287.5 L204.6 289.4 L205.1 291.4 L205.6 293.3 L206.1 295.2 L206.7 297.2 L207.3 299.0 L208.1 300.9 L209.0 302.4 L210.7 301.6 L212.5 300.7 L214.3 299.8 L216.2 299.5 L218.1 299.2 L220.0 298.4 L221.8 297.5 L223.6 296.7 L225.4 296.0 L227.3 295.2 L228.8 294.0 L230.3 292.6 L231.7 291.2 L233.0 289.7 L234.1 288.1 L235.2 286.4 L236.4 284.7 L237.6 283.1 L238.9 281.7 L240.3 280.2 L241.6 278.7 L242.8 277.1 L243.9 275.4 L245.0 273.8 L246.0 272.0 L246.9 270.3 L247.8 268.5 L248.7 266.7 L249.6 264.9 L250.2 263.0 L250.8 261.1 L251.5 259.2 L251.9 257.2 L252.4 255.3 L252.8 253.3 L253.3 251.4 L253.7 249.4 L254.2 247.5 L254.7 245.6 L255.3 243.7 L256.0 241.8 L256.6 239.9 L257.2 238.0 L257.9 236.1 L258.5 234.2 L259.1 232.3 L259.6 230.3 L260.2 228.4 L260.8 226.5 L261.5 224.6 L262.5 222.9 L263.5 221.2 L264.8 219.8 L266.6 218.9 L268.5 218.2 L270.2 217.3 L271.2 215.6 L272.1 213.9 L273.1 212.1 L274.1 210.4 L275.2 208.8 L276.6 207.3 L278.2 206.1 L279.8 205.0 L281.3 203.7 L282.8 202.3 L284.4 201.1 L286.0 200.0 L287.9 199.4 L289.8 199.3 L291.8 199.8 L293.2 201.0 L294.3 202.6 L295.4 204.3 L296.2 206.2 L297.0 208.0 L297.8 209.8 L298.6 211.7 L299.5 213.4 L300.4 215.2 L301.3 217.0 L302.6 218.5 L304.1 219.8 L305.8 220.8 L307.7 221.4 L309.7 221.5 L311.3 220.6 L312.8 219.2 L314.0 217.7 L315.2 216.1 L316.5 214.5 L317.8 213.1 L319.6 213.0 L321.0 211.8 L322.1 210.2 L322.8 208.3 L323.6 206.5 L324.3 204.6 L325.0 202.7 L325.6 200.8 L326.3 198.9 L326.9 197.0 L327.5 195.1 L328.1 193.2 L328.7 191.3 L329.3 189.4 L329.8 187.5 L330.4 185.6 L330.9 183.6 L331.5 181.7 L332.0 179.8 L332.5 177.8 L333.0 175.9 L333.5 173.9 L333.9 172.0 L334.4 170.1 L334.9 168.1 L335.4 166.2 L335.8 164.2 L336.2 162.3 L336.6 160.3 L337.0 158.3 L337.3 156.4 L337.7 154.4 L338.1 152.4 L338.4 150.5 L338.6 148.5 L338.9 146.5 L339.2 144.5 L339.5 142.5 L339.8 140.6 L340.0 138.6 L340.2 136.6 L340.4 134.6 L340.7 132.6 L340.9 130.6 L341.1 128.6 L341.3 126.6 L341.6 124.7 L341.8 122.7 L342.0 120.7 L342.2 118.7 L342.4 116.7 L342.6 114.7 L342.7 112.7 L342.9 110.7 L343.1 108.7 L343.2 106.7 L343.4 104.7 L343.6 102.7 L343.7 100.8 L343.9 98.8 L344.1 96.8 L344.2 94.8 L344.4 92.8 L344.5 90.8 L344.7 88.8 L344.9 86.8 L345.0 84.8 L345.2 82.8 L345.3 80.8 L345.5 78.8 L345.6 76.8 L345.7 74.8 L345.9 72.8 L346.0 70.8 L346.2 68.8 L346.4 66.9 L346.6 64.9 L346.9 62.9 L347.1 60.9 L347.2 59.9 L349.3 35.7 L354.7 16.2 L360.3 28.5 L363.6 59.9 L363.7 61.9 L363.8 63.9 L363.9 65.9 L364.0 67.9 L364.1 69.9 L364.3 71.9 L364.5 73.9 L364.7 75.9 L364.9 77.9 L365.1 79.8 L365.3 81.8 L365.5 83.8 L365.7 85.8 L365.8 87.8 L366.0 89.8 L366.2 91.8 L366.4 93.8 L366.6 95.8 L366.7 97.8 L366.9 99.8 L367.1 101.8 L367.3 103.7 L367.5 105.7 L367.7 107.7 L367.9 109.7 L368.1 111.7 L368.3 113.7 L368.6 115.7 L368.8 117.7 L369.0 119.7 L369.2 121.7 L369.4 123.6 L369.7 125.6 L369.8 127.6 L370.0 129.6 L370.2 131.6 L370.4 133.6 L370.6 135.6 L370.7 137.6 L370.8 139.6 L371.0 141.6 L371.4 143.5 L371.7 145.5 L372.0 147.5 L372.4 149.5 L372.7 151.4 L373.0 153.4 L373.4 155.4 L373.8 157.3 L374.1 159.3 L374.5 161.3 L374.9 163.2 L375.2 165.2 L375.6 167.2 L376.1 169.1 L376.6 171.0 L377.1 173.0 L377.6 174.9 L378.1 176.9 L378.6 178.8 L379.3 180.6 L380.1 182.4 L380.5 184.4 L380.8 186.4 L381.3 188.3 L382.0 190.2 L383.1 191.8 L384.3 193.4 L385.5 195.0 L386.6 196.7 L387.9 198.1 L389.7 198.9 L391.7 199.3 L393.6 199.5 L395.6 199.5 L397.5 199.9 L399.3 200.8 L401.1 201.7 L402.9 202.5 L404.8 202.3 L406.7 201.7 L408.5 201.0 L410.3 200.1 L412.1 199.1 L413.9 198.5 L415.9 198.2 L417.8 198.6 L419.7 199.3 L421.3 200.4 L422.8 201.8 L424.1 203.3 L425.5 204.8 L426.7 206.3 L428.0 207.8 L429.4 209.3 L430.8 210.7 L432.3 212.0 L433.7 213.4 L435.2 214.8 L436.6 216.2 L437.9 217.7 L439.1 219.3 L440.1 221.1 L440.9 222.9 L441.8 224.7 L442.8 226.4 L443.8 228.1 L444.8 229.8 L445.8 231.6 L446.8 233.3 L447.8 235.0 L448.8 236.8 L449.8 238.5 L450.7 240.3 L451.7 242.0 L452.8 243.7 L453.9 245.4 L454.9 247.1 L456.0 248.8 L457.2 250.4 L458.5 251.9 L459.8 253.4 L461.1 254.9 L462.6 256.2 L464.2 257.5 L465.7 258.7 L467.1 260.2 L468.4 261.7 L469.7 263.2 L470.9 264.9 L472.0 266.5 L473.1 268.2 L474.2 269.8 L475.3 271.5 L476.4 273.2 L477.4 274.9 L478.5 276.6 L479.6 278.3 L480.6 280.0 L481.6 281.7 L482.7 283.4 L483.7 285.2 L484.6 286.9 L485.5 288.7 L486.4 290.5 L487.3 292.3 L488.2 294.1 L489.3 295.8 L490.3 297.5 L491.4 299.2 L492.4 300.9 L493.6 302.5 L494.8 304.1 L496.1 305.6 L497.4 307.1 L498.7 308.6 L500.1 310.0 L501.6 311.5 L503.0 312.9 L504.6 314.0 L506.3 315.1 L507.9 316.2 L509.6 317.3 L511.4 318.3 L513.1 319.3 L514.9 320.2 L516.6 321.1 L518.4 322.0 L520.2 322.9 L522.1 323.7 L523.9 324.5 L525.7 325.3 L527.6 326.1 L529.5 326.8 L531.3 327.5 L533.2 328.2 L535.1 328.9 L536.9 329.7 L538.7 330.5 L540.6 330.9 L542.6 331.0 L544.6 331.3 L546.6 331.5 L548.6 331.7 L550.6 331.7 L552.6 331.8 L554.5 332.3 L556.3 333.2 L558.1 334.1 L559.7 335.3 L561.2 336.5 L562.8 337.8 L564.3 339.1 L565.7 340.6 L567.1 342.0 L568.4 343.4 L569.7 345.0 L571.0 346.6 L572.3 348.1 L573.8 349.4 L575.3 350.7 L576.9 351.8 L578.7 352.8 L580.4 353.9 L582.1 354.9 L583.9 355.8 L585.7 356.7 L587.4 357.6 L589.2 358.5 L591.0 359.3 L592.8 360.2 L594.7 361.0 L596.6 361.6 L598.5 362.3 L600.4 362.9 L602.3 363.2 L604.3 363.5 L606.3 363.8 L608.2 364.3 L610.1 365.0 L612.0 365.7 L613.8 366.5 L615.5 367.5 L617.3 368.4 L619.0 369.5 L620.7 370.6 L622.3 371.7 L624.0 372.8 L625.7 373.8 L627.5 374.8 L629.2 375.8 L630.9 376.8 L632.5 378.0 L634.2 379.1 L635.7 380.4 L637.2 381.8 L638.6 383.2 L640.0 384.6 L641.2 386.2 L642.4 387.8 L643.6 389.4 L644.7 391.1 L645.9 392.7 L647.0 394.3 L648.2 395.9 L649.4 397.6 L650.5 399.2 L651.6 400.9 L652.8 402.5 L653.9 404.2 L655.0 405.8 L656.1 407.5 L657.3 409.1 L658.4 410.8 L659.5 412.4 L660.6 414.1 L661.6 415.8 L662.6 417.6 L663.6 419.3 L664.6 421.1 L665.6 422.8 L666.6 424.5 L667.6 426.3 L668.6 428.0 L669.7 429.7 L670.7 431.4 L671.8 433.0 L672.9 434.7 L674.1 436.3 L675.8 437.0 L677.8 437.3 L679.6 437.0 L681.3 436.0 L683.0 434.8 L684.4 433.5 L685.9 432.0 L687.3 430.6 L688.4 429.0 L689.5 427.3 L690.7 425.7 L691.8 424.0 L692.9 422.4 L694.1 420.8 L695.4 419.3 L696.7 417.8 L698.1 416.3 L699.6 414.9 L701.0 413.6 L702.5 412.3 L704.0 410.9 L705.5 409.6 L707.0 408.2 L708.3 406.8 L709.4 405.1 L710.4 403.4 L711.5 401.7 L712.5 400.0 L713.5 398.2 L714.4 396.4 L715.3 394.6 L716.2 392.8 L717.1 391.0 L718.0 389.3 L718.9 387.5 L719.9 385.8 L720.9 384.0 L721.9 382.3 L722.8 380.5 L723.8 378.8 L724.8 377.0 L725.7 375.3 L726.7 373.5 L727.8 371.9 L729.2 370.4 L730.5 368.9 L731.9 367.5 L733.5 366.3 L735.3 365.4 L737.1 364.5 L738.9 363.7 L740.8 363.0 L742.7 362.6 L744.6 363.0 L746.6 363.3 L748.6 363.3 L750.5 363.0 L752.5 363.1 L754.4 363.9 L756.2 364.6 L758.0 365.5 L759.7 366.6 L761.4 367.6 L763.1 368.7 L764.6 370.0 L766.1 371.3 L767.7 372.5 L769.1 373.9 L770.6 375.3 L772.0 376.7 L773.4 378.1 L774.7 379.6 L776.0 381.2 L777.2 382.8 L778.4 384.3 L779.5 386.0 L780.5 387.8 L781.4 389.5 L782.3 391.3 L783.2 393.1 L784.2 394.9 L785.0 396.7 L785.8 398.5 L786.7 400.3 L787.5 402.1 L788.3 404.0 L789.2 405.8 L790.1 407.5 L791.1 409.3 L792.1 411.0 L793.0 412.8 L794.0 414.5 L794.8 416.4 L795.7 418.2 L796.5 420.0 L797.3 421.8 L798.1 423.6 L799.0 425.4 L800.0 427.2 L801.0 428.9 L802.0 430.6 L803.0 432.4 L804.1 434.0 L805.2 435.7" stroke="#000000" stroke-width="2.55" fill="none" stroke-linejoin="miter" stroke-miterlimit="14" stroke-linecap="butt"/>
<path d="M125.85 517.15v-14.5M125.85 3.25v14.5M171.70 517.15v-7.2M171.70 3.25v7.2M217.55 517.15v-7.2M217.55 3.25v7.2M263.40 517.15v-7.2M263.40 3.25v7.2M309.25 517.15v-7.2M309.25 3.25v7.2M355.10 517.15v-14.5M355.10 3.25v14.5M400.95 517.15v-7.2M400.95 3.25v7.2M446.80 517.15v-7.2M446.80 3.25v7.2M492.65 517.15v-7.2M492.65 3.25v7.2M538.50 517.15v-7.2M538.50 3.25v7.2M584.35 517.15v-14.5M584.35 3.25v14.5M630.20 517.15v-7.2M630.20 3.25v7.2M676.05 517.15v-7.2M676.05 3.25v7.2M721.90 517.15v-7.2M721.90 3.25v7.2M767.75 517.15v-7.2M767.75 3.25v7.2M80.0 496.73h7.2M813.6 496.73h-7.2M80.0 479.55h7.2M813.6 479.55h-7.2M80.0 464.67h7.2M813.6 464.67h-7.2M80.0 451.54h7.2M813.6 451.54h-7.2M80.0 439.80h14.5M813.6 439.80h-14.5M80.0 362.56h7.2M813.6 362.56h-7.2M80.0 317.37h7.2M813.6 317.37h-7.2M80.0 285.31h7.2M813.6 285.31h-7.2M80.0 260.44h7.2M813.6 260.44h-7.2M80.0 240.13h7.2M813.6 240.13h-7.2M80.0 222.95h7.2M813.6 222.95h-7.2M80.0 208.07h7.2M813.6 208.07h-7.2M80.0 194.94h7.2M813.6 194.94h-7.2M80.0 183.20h14.5M813.6 183.20h-14.5M80.0 105.96h7.2M813.6 105.96h-7.2M80.0 60.77h7.2M813.6 60.77h-7.2M80.0 28.71h7.2M813.6 28.71h-7.2" stroke="#000" stroke-width="2.3" fill="none"/>
<rect x="80.0" y="3.25" width="733.60" height="513.90" fill="none" stroke="#000" stroke-width="2.4"/>
<path d="M601.8 62.2H631.1" stroke="#ff00ff" stroke-width="2.4"/>
<text transform="translate(645 66.2) scale(1 1.06)" font-size="26.9" text-anchor="start">0.5 M<tspan font-size="18.9" dx="0.4" dy="10.5">J</tspan></text>
<path d="M601.8 98.7H631.1" stroke="#0000ff" stroke-width="2.4"/>
<text transform="translate(645 101.9) scale(1 1.06)" font-size="26.9" text-anchor="start">1 M<tspan font-size="18.9" dx="0.4" dy="10.5">J</tspan></text>
<path d="M601.8 134.8H631.1" stroke="#ff0000" stroke-width="2.4"/>
<text transform="translate(645 138.0) scale(1 1.06)" font-size="26.9" text-anchor="start">2 M<tspan font-size="18.9" dx="0.4" dy="10.5">J</tspan></text>
<path d="M601.8 170.9H631.1" stroke="#000000" stroke-width="2.4"/>
<text transform="translate(645 174.1) scale(1 1.06)" font-size="26.9" text-anchor="start">4 M<tspan font-size="18.9" dx="0.4" dy="10.5">J</tspan></text>
<text transform="translate(126.2 545.0) scale(1 1.06)" font-size="29.0" text-anchor="middle">0.5</text>
<text transform="translate(355.5 545.0) scale(1 1.06)" font-size="29.0" text-anchor="middle">1</text>
<text transform="translate(584.8 545.0) scale(1 1.06)" font-size="29.0" text-anchor="middle">1.5</text>
<text transform="translate(814.0 545.0) scale(1 1.06)" font-size="29.0" text-anchor="middle">2</text>
<text transform="translate(75.0 193.1) scale(1 1.06)" font-size="29.0" text-anchor="end">1</text>
<text transform="translate(75.0 449.7) scale(1 1.06)" font-size="29.0" text-anchor="end">0.1</text>
<text x="411.4" y="571.4" font-size="28.2" word-spacing="0.7">R / R<tspan font-size="20.4" dx="0.5" dy="12">p</tspan></text>
<text transform="translate(21.7 391.2) rotate(-90)" font-size="28.9">meridional speed [ c<tspan font-size="20.5" dy="11.5">0</tspan><tspan dy="-11.5"> ]</tspan></text>
</svg>
</body></html>
